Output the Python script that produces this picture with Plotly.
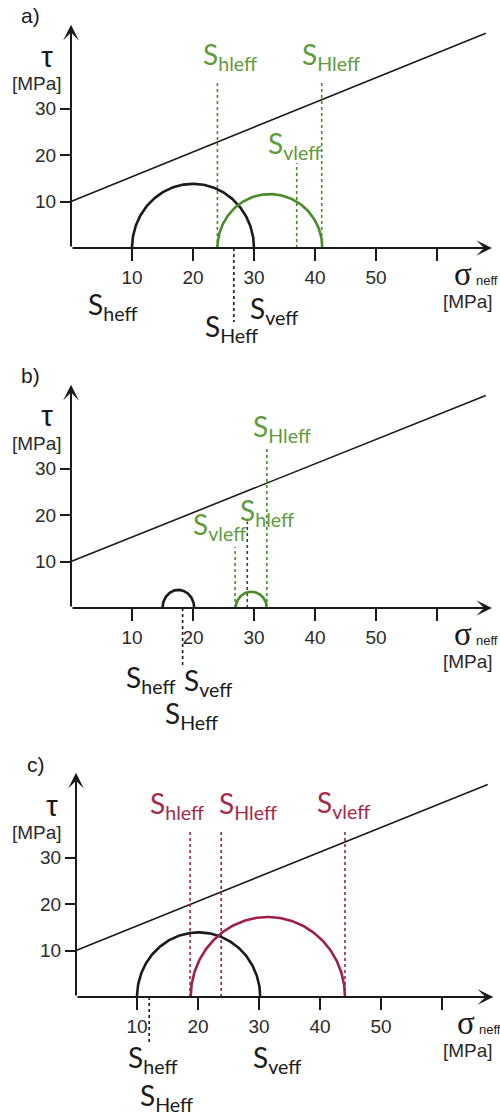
import numpy as np
import plotly.graph_objects as go

# ---------------- data ----------------
panel_letters = ["a)", "b)", "c)"]

# Mohr-Coulomb failure envelope (start and end points, MPa)
fail_sigma = [[0, 68.0], [0, 68.0], [0, 67.5]]
fail_tau = [[10, 46.2], [10, 45.7], [10, 45.7]]

# black Mohr semicircles (S_heff .. S_veff)
black_lo = [10.0, 15.0, 10.0]
black_hi = [30.0, 20.2, 30.2]
black_peak = [13.8, 3.9, 13.9]

# coloured Mohr semicircles
col_lo = [24.0, 27.0, 18.8]
col_hi = [41.2, 32.1, 44.1]
col_peak = [11.6, 3.5, 17.2]

# dotted guide lines: sigma position and end tau
guide_sigma = [[24.0, 41.1, 37.0, 26.7],
               [26.9, 28.9, 32.1, 18.3],
               [18.7, 23.8, 44.1, 12.0]]
guide_tau = [[36.1, 36.1, 18.3, -15.9],
             [13.1, 18.6, 34.6, -12.6],
             [35.7, 35.5, 35.5, -10.3]]
guide_kind = [["col", "col", "col", "blk"],
              ["col", "dark", "col", "blk"],
              ["col", "col", "col", "blk"]]

# stress labels: subscript, sigma, tau, kind
stress_labels = [
    [("hleff", 26.1, 41.2, "col"), ("Hleff", 42.6, 41.2, "col"),
     ("vleff", 36.6, 22.1, "col"), ("heff", 6.8, -12.5, "blk"),
     ("veff", 33.2, -13.4, "blk"), ("Heff", 26.3, -17.2, "blk")],
    [("Hleff", 34.6, 38.8, "col"), ("hleff", 32.1, 20.6, "col"),
     ("vleff", 24.4, 17.6, "col"), ("heff", 13.0, -15.3, "blk"),
     ("veff", 22.5, -15.9, "blk"), ("Heff", 19.8, -23.0, "blk")],
    [("hleff", 16.6, 41.3, "col"), ("Hleff", 28.2, 41.3, "col"),
     ("vleff", 43.8, 41.5, "col"), ("heff", 12.6, -13.3, "blk"),
     ("Heff", 14.8, -21.5, "blk"), ("veff", 32.9, -13.3, "blk")],
]

x_ticks = [10, 20, 30, 40, 50, 60]
x_tick_text = ["10", "20", "30", "40", "50", ""]
y_ticks = [10, 20, 30]
y_tick_text = ["10", "20", "30"]

# ---------------- layout geometry (pixels) ----------------
W, H = 500, 1117
PX_PER_SIGMA = 6.1
PX_PER_TAU = 4.65
origin_x_px = [71, 71, 76]          # pixel column of sigma = 0
origin_y_px = [248, 608, 997]       # pixel row of tau = 0
band_px = [(0, 372), (372, 740), (740, 1117)]

arrow_x_tip = [69.0, 69.0, 68.4]
arrow_y_tip = [48.0, 48.0, 48.2]

colours = [
    {"col": "#4a8c2a", "text": "#5f9a3d", "dark": "#3a3a32"},
    {"col": "#4a8c2a", "text": "#5f9a3d", "dark": "#3a3a32"},
    {"col": "#a01e4a", "text": "#a32a4a", "dark": "#3a3a32"},
]
BLACK = "#1a1a1a"
SANS = "Liberation Sans, Arial, sans-serif"
TICK_FONT = dict(family=SANS, size=19, color="#2a2a2a")
S_FONT = "Lato, Open Sans, sans-serif"

fig = go.Figure()
annotations = []

for i in range(3):
    sx = "" if i == 0 else str(i + 1)
    xr, yr = "x" + sx, "y" + sx
    top, bot = band_px[i]
    ox, oy = origin_x_px[i], origin_y_px[i]
    x_range = [-ox / PX_PER_SIGMA, (W - ox) / PX_PER_SIGMA]
    y_range = [-(bot - oy) / PX_PER_TAU, (oy - top) / PX_PER_TAU]
    pal = colours[i]

    fig.update_layout(**{
        "xaxis" + sx: dict(
            domain=[0, 1], range=x_range, anchor="free",
            position=1 - oy / H, tickvals=x_ticks, ticktext=x_tick_text,
            ticks="outside", ticklen=12, tickwidth=2, tickcolor=BLACK,
            showline=False, showgrid=False, zeroline=False,
            tickfont=TICK_FONT, fixedrange=True,
        ),
        "yaxis" + sx: dict(
            domain=[1 - bot / H, 1 - top / H], range=y_range, anchor="free",
            position=ox / W, tickvals=y_ticks, ticktext=y_tick_text,
            ticks="outside", ticklen=11, tickwidth=2, tickcolor=BLACK,
            showline=False, showgrid=False, zeroline=False,
            tickfont=TICK_FONT, fixedrange=True,
        ),
    })

    # failure envelope
    fig.add_trace(go.Scatter(x=fail_sigma[i], y=fail_tau[i], mode="lines",
                             line=dict(color=BLACK, width=1.6),
                             xaxis=xr, yaxis=yr, hoverinfo="skip"))

    # dotted guide lines
    for s, t, k in zip(guide_sigma[i], guide_tau[i], guide_kind[i]):
        c = BLACK if k == "blk" else pal[k]
        fig.add_trace(go.Scatter(x=[s, s], y=[0, t], mode="lines",
                                 line=dict(color=c, width=1.6, dash="dot"),
                                 xaxis=xr, yaxis=yr, hoverinfo="skip"))

    # Mohr semicircles
    theta = np.linspace(0, np.pi, 181)
    for lo, hi, pk, c in ((black_lo[i], black_hi[i], black_peak[i], BLACK),
                          (col_lo[i], col_hi[i], col_peak[i], pal["col"])):
        cen, rad = (lo + hi) / 2, (hi - lo) / 2
        fig.add_trace(go.Scatter(x=cen + rad * np.cos(theta), y=pk * np.sin(theta),
                                 mode="lines", line=dict(color=c, width=2.6),
                                 xaxis=xr, yaxis=yr, hoverinfo="skip"))

    # axes with arrow heads
    for tip, tail in (((arrow_x_tip[i], 0), (0, 0)), ((0, arrow_y_tip[i]), (0, 0))):
        annotations.append(dict(
            x=tip[0], y=tip[1], ax=tail[0], ay=tail[1],
            xref=xr, yref=yr, axref=xr, ayref=yr, text="",
            showarrow=True, arrowhead=3, arrowsize=1.3, arrowwidth=2,
            arrowcolor=BLACK, standoff=0, startstandoff=0,
        ))

    # axis titles
    annotations += [
        dict(x=-3.9, y=41.2 if i != 1 else 41.4, xref=xr, yref=yr, text="τ",
             showarrow=False, font=dict(family=SANS, size=30, color=BLACK)),
        dict(x=-5.6 if i != 2 else -6.4, y=35.4, xref=xr, yref=yr, text="[MPa]",
             showarrow=False, font=TICK_FONT),
        dict(x=64.3 if i != 2 else 64.0, y=-5.6, xref=xr, yref=yr, text="σ",
             showarrow=False, font=dict(family="Liberation Serif, serif", size=33, color=BLACK)),
        dict(x=68.2 if i != 2 else 67.9, y=-6.9, xref=xr, yref=yr, text="neff",
             xanchor="center", showarrow=False,
             font=dict(family=SANS, size=13, color=BLACK)),
        dict(x=65.1 if i != 2 else 64.2, y=-11.6, xref=xr, yref=yr, text="[MPa]",
             showarrow=False, font=TICK_FONT),
        dict(x=-6.6, y=49.9, xref=xr, yref=yr, text=panel_letters[i],
             showarrow=False, font=dict(family=SANS, size=21, color=BLACK)),
    ]

    # stress labels
    for sub, s, t, k in stress_labels[i]:
        c = BLACK if k == "blk" else pal["text"]
        annotations.append(dict(
            x=s, y=t, xref=xr, yref=yr, text="S<sub>%s</sub>" % sub,
            showarrow=False, font=dict(family=S_FONT, size=28, color=c),
        ))

fig.update_layout(
    width=W, height=H, margin=dict(l=0, r=0, t=0, b=0),
    paper_bgcolor="white", plot_bgcolor="white",
    showlegend=False, annotations=annotations,
)

fig.write_html("out.html")
